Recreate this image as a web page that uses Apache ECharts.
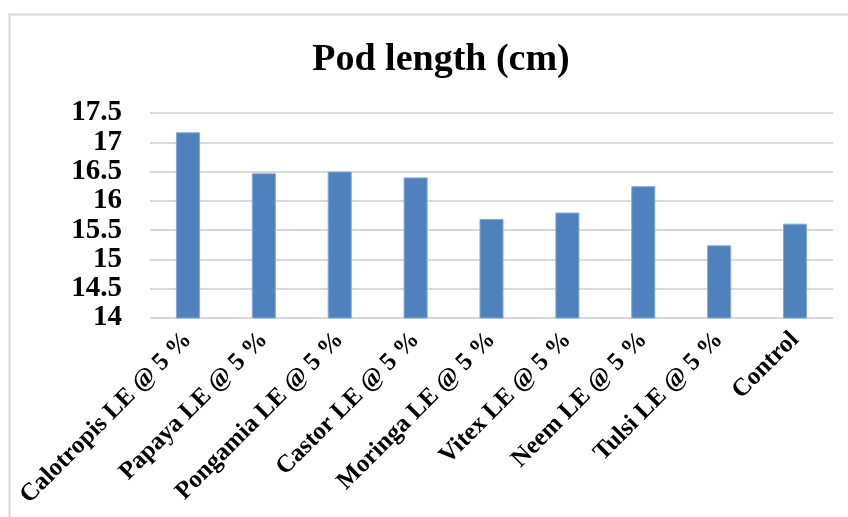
<!DOCTYPE html>
<html>
<head>
<meta charset="utf-8">
<script src="https://cdn.jsdelivr.net/npm/echarts@6/dist/echarts.min.js"></script>
<style>
  html, body { margin: 0; padding: 0; background: #fff; }
  #chart { width: 848px; height: 517px; }
</style>
</head>
<body>
<div id="chart"></div>
<script>
// Treatments and measured pod length (cm)
const categories = [
  'Calotropis LE @ 5 %', 'Papaya LE @ 5 %', 'Pongamia LE @ 5 %', 'Castor LE @ 5 %',
  'Moringa LE @ 5 %', 'Vitex LE @ 5 %', 'Neem LE @ 5 %', 'Tulsi LE @ 5 %', 'Control'
];
const podLength = [17.17, 16.47, 16.50, 16.40, 15.69, 15.80, 16.25, 15.24, 15.61];

const serif = '"Liberation Serif", "DejaVu Serif", serif';
const chart = echarts.init(document.getElementById('chart'));

chart.setOption({
  animation: false,
  backgroundColor: '#ffffff',
  title: {
    text: 'Pod length (cm)',
    left: 436, top: 36, textAlign: 'center',
    textStyle: { fontFamily: serif, fontSize: 38, fontWeight: 'bold', color: '#000' }
  },
  graphic: [{
    type: 'rect',
    shape: { x: 9.5, y: 14.5, width: 850, height: 520 },
    style: { fill: 'none', stroke: '#d9d9d9', lineWidth: 2 },
    silent: true
  }],
  grid: { left: 150, right: 15, top: 113, bottom: 199, containLabel: false },
  xAxis: {
    type: 'category',
    data: categories,
    axisLine: { show: false },
    axisTick: { show: false },
    axisLabel: {
      interval: 0, rotate: 45, margin: 18,
      fontFamily: serif, fontSize: 25, fontWeight: 'bold', color: '#000'
    }
  },
  yAxis: {
    type: 'value',
    min: 14, max: 17.5, interval: 0.5,
    axisLine: { show: false },
    axisTick: { show: false },
    splitLine: { lineStyle: { color: '#d9d9d9', width: 2 } },
    axisLabel: {
      margin: 28,
      showMinLabel: true, showMaxLabel: true,
      fontFamily: serif, fontSize: 29,
      fontWeight: 'bold', color: '#000'
    }
  },
  series: [{
    type: 'bar',
    data: podLength,
    barWidth: 24,
    itemStyle: { color: '#4f81bd', borderColor: '#7fa7d9', borderWidth: 1 }
  }]
});
</script>
</body>
</html>
